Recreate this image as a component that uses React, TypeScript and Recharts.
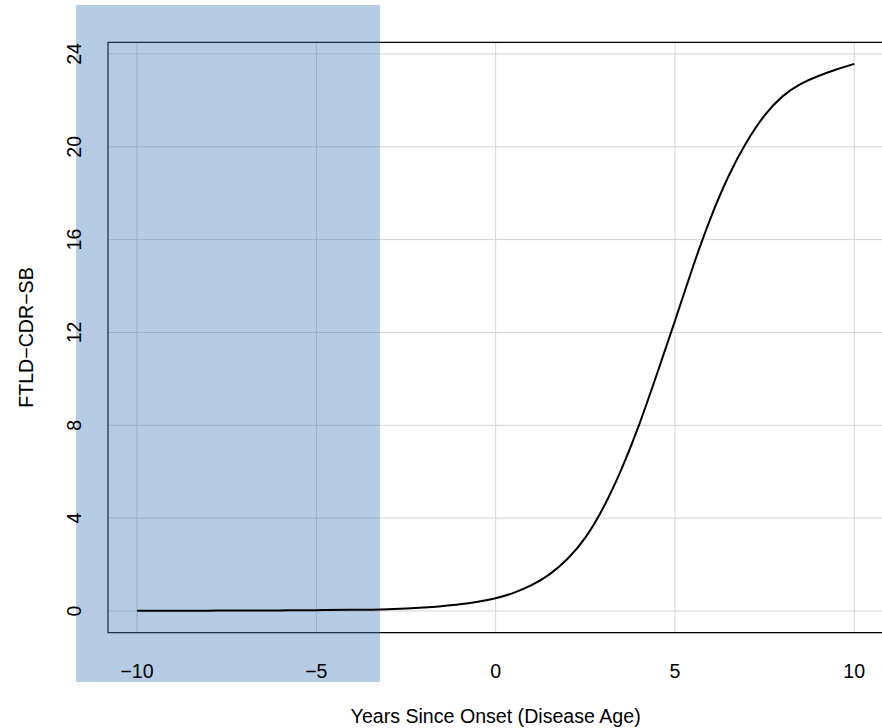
import React from 'react';
import { ComposedChart, Line, XAxis, YAxis, CartesianGrid, ReferenceArea, Label } from 'recharts';

// Years since onset (disease age)
const years = [-10, -9, -8, -7, -6, -5, -4, -3, -2, -1.5, -1, -0.5, 0, 0.5, 1, 1.5, 2, 2.5, 3, 3.5, 4, 4.5, 5, 5.5, 6, 6.5, 7, 7.5, 8, 8.5, 9, 9.5, 10];
// FTLD-CDR-SB estimated values
const cdrsb = [0.01, 0.012, 0.015, 0.02, 0.026, 0.035, 0.05, 0.08, 0.15, 0.21, 0.29, 0.4, 0.55, 0.78, 1.11, 1.58, 2.24, 3.16, 4.45, 6.08, 8.02, 10.22, 12.5, 14.82, 16.95, 18.75, 20.2, 21.35, 22.17, 22.7, 23.05, 23.33, 23.57];

const xTicks = [-10, -5, 0, 5, 10];
const yTicks = [0, 4, 8, 12, 16, 20, 24];
const xDomain: [number, number] = [-10.81, 10.81];
const yDomain: [number, number] = [-0.935, 24.5];

// shaded pre-symptomatic region (extends beyond the plot box)
const shadeX = [-11.7, -3.226];
const shadeY = [-3.06, 26.11];

const xTitle = 'Years Since Onset (Disease Age)';
const yTitle = 'FTLD\u2212CDR\u2212SB';

const data = years.map((x, i) => ({ x, y: cdrsb[i] }));

const FONT = '"Liberation Sans", Arial, Helvetica, sans-serif';
const FS = 19.6;

const fmt = (v: number) => (v < 0 ? '\u2212' + Math.abs(v) : String(v));

const XTick = (props: any) => {
  const { x, y, payload } = props;
  return (
    <text x={x} y={y + 44.8} textAnchor="middle" fontSize={FS} fontFamily={FONT} fill="#000">
      {fmt(payload.value)}
    </text>
  );
};

const YTick = (props: any) => {
  const { x, y, payload } = props;
  const bx = x - 27.3;
  return (
    <text x={bx} y={y} transform={`rotate(-90, ${bx}, ${y})`} textAnchor="middle" fontSize={FS} fontFamily={FONT} fill="#000">
      {fmt(payload.value)}
    </text>
  );
};

export default function App() {
  return (
    <div style={{ position: 'fixed', left: 0, top: 0, width: 882, height: 728, overflow: 'hidden', background: '#fff' }}>
      <ComposedChart
        width={890}
        height={728}
        data={data}
        margin={{ top: 42.3, right: 6.7, bottom: 35.3, left: 8 }}
      >
        <CartesianGrid stroke="#d3d3d3" strokeWidth={1} />
        <XAxis
          dataKey="x"
          type="number"
          domain={xDomain}
          ticks={xTicks}
          allowDataOverflow
          height={60}
          tickSize={0}
          tickMargin={0}
          axisLine={false}
          tickLine={false}
          tick={<XTick />}
        >
          <Label
            content={(p: any) => {
              const vb = p.viewBox;
              return (
                <text x={vb.x + vb.width / 2} y={vb.y + 90.5} textAnchor="middle" fontSize={FS} fontFamily={FONT} fill="#000">
                  {xTitle}
                </text>
              );
            }}
          />
        </XAxis>
        <YAxis
          type="number"
          domain={yDomain}
          ticks={yTicks}
          allowDataOverflow
          width={100}
          tickSize={0}
          tickMargin={0}
          axisLine={false}
          tickLine={false}
          tick={<YTick />}
        >
          <Label
            content={(p: any) => {
              const vb = p.viewBox;
              const bx = vb.x + 25;
              const cy = vb.y + vb.height / 2;
              return (
                <text x={bx} y={cy} transform={`rotate(-90, ${bx}, ${cy})`} textAnchor="middle" fontSize={FS} fontFamily={FONT} fill="#000">
                  {yTitle}
                </text>
              );
            }}
          />
        </YAxis>
        <Line
          type="natural"
          dataKey="y"
          stroke="#000"
          strokeWidth={2}
          dot={false}
          activeDot={false}
          isAnimationActive={false}
        />
        <ReferenceArea
          x1={xDomain[0]}
          x2={xDomain[1]}
          y1={yDomain[0]}
          y2={yDomain[1]}
          fill="none"
          stroke="#000"
          strokeWidth={1.2}
          ifOverflow="visible"
        />
        <ReferenceArea
          x1={shadeX[0]}
          x2={shadeX[1]}
          y1={shadeY[0]}
          y2={shadeY[1]}
          fill="#4680bb"
          fillOpacity={0.4}
          stroke="none"
          ifOverflow="visible"
        />
      </ComposedChart>
    </div>
  );
}
